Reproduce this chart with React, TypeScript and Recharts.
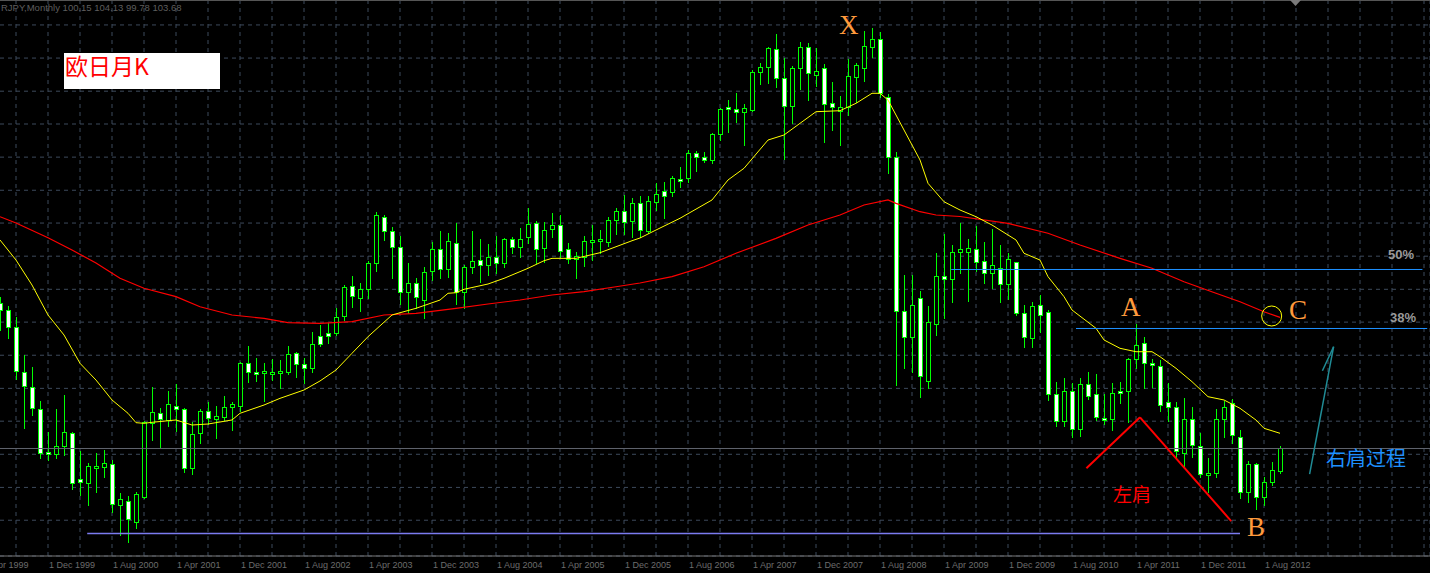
import React from "react";
import { Bar, CartesianGrid, ComposedChart, Line, ReferenceDot, ReferenceLine, XAxis, YAxis } from "recharts";

// monthly bars, index 0 = Jun 1999 ... 160 = Oct 2012
const opens = [
  126.68, 125.62, 122.88, 115.84, 113.47, 109.88, 103.05, 102.75, 104.11, 106.07,
  98.78, 98.25, 100.9, 100.78, 101.16, 94.71, 95.39, 92.07, 96.03, 107.66,
  109.24, 108.19, 110.45, 109.88, 100.62, 106.07, 109.61, 108.29, 108.71, 110.2,
  110.45, 117.17, 115.84, 115.84, 115.74, 115.84, 115.84, 118.76, 117.01, 116.38,
  121.5, 121.93, 122.02, 124.72, 129.42, 127.47, 128.9, 133.02, 140.31, 138.14,
  135.56, 128.42, 129.95, 127.2, 131.8, 135.24, 132.07, 136.19, 128.42, 132.49,
  133.5, 132.7, 134.08, 133.02, 136.92, 135.65, 137.14, 139.36, 135.4, 138.41,
  139.04, 135.24, 133.66, 134.08, 136.7, 136.7, 136.45, 139.88, 141.36, 139.77,
  142.53, 138.14, 142.79, 144.48, 144.37, 146.4, 146.49, 150.46, 149.92, 149.4,
  153.47, 157.75, 157.53, 156.96, 157.32, 163.3, 164.09, 166.94, 162.34, 158.0,
  164.03, 167.26, 162.82, 163.93, 158.38, 157.21, 157.75, 162.6, 164.03, 167.36,
  168.52, 159.43, 149.82, 125.51, 121.29, 127.47, 114.37, 123.4, 131.06, 130.48,
  134.76, 134.86, 135.24, 133.39, 131.44, 132.23, 129.69, 133.18, 125.1, 121.13,
  126.36, 125.26, 112.26, 108.07, 112.83, 106.71, 113.84, 112.26, 108.5, 108.29,
  112.83, 112.83, 117.9, 120.34, 117.26, 116.79, 111.08, 110.2, 102.91, 108.29,
  104.11, 99.73, 99.73, 108.29, 110.83, 105.54, 96.72, 101.16, 95.93, 98.4,
  100.15,
];

const highs = [
  127.73, 126.26, 124.46, 118.48, 116.53, 111.2, 106.33, 109.93, 112.15, 106.3,
  103.32, 101.32, 102.91, 103.43, 101.85, 96.57, 96.14, 96.73, 108.07, 113.37,
  110.04, 112.78, 113.84, 110.04, 107.92, 109.88, 111.08, 110.4, 111.99, 111.08,
  117.42, 119.96, 118.06, 117.17, 117.85, 117.69, 119.96, 119.01, 117.96, 122.09,
  123.24, 123.51, 125.89, 129.58, 131.01, 129.95, 133.43, 141.2, 140.68, 138.73,
  137.35, 133.02, 130.64, 132.49, 136.45, 138.14, 137.87, 139.36, 132.76, 138.14,
  136.87, 136.08, 137.35, 137.03, 137.24, 138.57, 141.74, 139.72, 139.61, 141.04,
  140.63, 136.29, 134.86, 137.35, 139.09, 138.3, 140.31, 141.79, 143.84, 143.32,
  143.73, 143.73, 145.7, 145.96, 146.91, 148.33, 150.98, 150.82, 150.7, 153.63,
  157.59, 158.9, 159.96, 158.27, 163.66, 164.72, 167.36, 169.37, 165.51, 164.29,
  168.05, 167.89, 167.1, 164.56, 161.81, 159.54, 165.36, 164.82, 169.84, 170.27,
  169.73, 159.86, 150.71, 131.17, 131.17, 128.68, 126.3, 134.6, 137.62, 135.92,
  139.36, 136.87, 138.93, 136.45, 138.41, 135.92, 134.7, 133.28, 126.41, 126.93,
  128.0, 125.62, 114.26, 114.79, 114.1, 114.89, 115.84, 115.43, 112.26, 114.0,
  114.26, 117.96, 123.4, 121.39, 117.8, 117.69, 114.1, 111.08, 111.63, 110.3,
  106.07, 102.12, 109.93, 111.2, 111.47, 106.6, 101.69, 101.32, 99.2, 101.58,
  104.13,
];

const lows = [
  122.45, 121.18, 114.68, 106.87, 108.98, 102.12, 101.85, 102.12, 102.64, 97.2,
  96.3, 94.71, 96.82, 99.1, 93.65, 89.96, 88.8, 91.12, 95.9, 105.02,
  103.95, 107.28, 106.44, 99.99, 99.62, 104.59, 107.5, 105.38, 108.19, 106.6,
  109.66, 114.26, 114.37, 111.2, 114.52, 113.3, 115.43, 115.05, 114.1, 115.84,
  119.96, 120.34, 121.65, 124.04, 126.14, 125.51, 127.47, 131.8, 136.71, 130.64,
  126.57, 125.1, 125.98, 124.31, 130.37, 130.64, 130.9, 126.57, 125.89, 131.44,
  130.1, 131.17, 131.53, 132.49, 134.61, 134.08, 136.19, 133.12, 133.28, 137.24,
  134.08, 133.02, 130.64, 132.6, 133.54, 134.61, 135.76, 137.62, 137.62, 137.24,
  137.24, 137.77, 141.47, 140.15, 143.73, 145.17, 145.96, 147.7, 149.03, 148.97,
  152.56, 153.88, 155.47, 151.7, 157.2, 161.44, 161.55, 161.01, 149.55, 155.31,
  160.65, 158.9, 161.17, 152.29, 154.15, 151.77, 156.53, 158.63, 161.92, 165.67,
  159.43, 147.28, 113.73, 116.38, 115.84, 111.88, 113.21, 121.65, 124.4, 126.93,
  131.53, 127.1, 131.85, 129.85, 129.06, 126.93, 127.36, 124.83, 119.81, 119.81,
  122.18, 111.36, 107.23, 107.23, 105.44, 105.65, 111.47, 108.19, 107.55, 106.6,
  110.83, 107.92, 116.38, 113.21, 113.46, 109.61, 108.03, 102.12, 100.78, 102.37,
  99.2, 96.82, 99.2, 105.54, 104.49, 95.77, 95.24, 94.03, 94.71, 97.88,
  99.78,
];

const closes = [
  125.62, 122.88, 115.95, 113.57, 110.04, 102.91, 102.95, 104.11, 106.23, 98.15,
  98.41, 100.89, 100.95, 101.32, 94.82, 95.61, 92.44, 96.41, 107.92, 109.4,
  108.39, 110.68, 109.88, 100.62, 105.91, 109.61, 108.45, 108.87, 110.2, 110.68,
  117.17, 115.74, 115.8, 115.9, 115.8, 115.9, 118.6, 117.01, 116.38, 120.18,
  120.18, 121.5, 124.56, 129.22, 127.84, 128.9, 133.02, 140.63, 138.14, 135.56,
  128.42, 129.95, 127.63, 131.6, 135.29, 132.07, 136.51, 128.42, 132.39, 133.43,
  132.7, 133.97, 133.02, 136.92, 135.56, 136.92, 139.2, 135.24, 138.3, 139.04,
  134.97, 133.7, 134.13, 136.51, 136.75, 136.8, 139.88, 141.36, 139.52, 142.53,
  138.3, 142.89, 144.01, 143.73, 146.49, 146.35, 150.46, 149.92, 149.4, 153.47,
  157.43, 157.43, 156.96, 157.59, 163.3, 164.09, 167.1, 162.34, 158.0, 164.03,
  167.26, 163.14, 163.5, 158.27, 157.75, 157.75, 162.71, 164.45, 167.51, 168.57,
  159.96, 149.82, 125.46, 121.39, 126.36, 115.16, 123.76, 131.06, 130.48, 134.76,
  135.24, 135.4, 133.28, 131.44, 132.7, 129.69, 133.66, 125.19, 121.29, 126.3,
  124.83, 112.26, 108.07, 112.83, 106.71, 113.84, 111.99, 108.61, 108.45, 112.42,
  112.42, 117.9, 120.07, 117.26, 116.85, 110.56, 110.2, 103.27, 108.29, 104.22,
  99.58, 99.8, 108.29, 110.3, 105.8, 96.72, 101.16, 95.93, 98.31, 100.26,
  103.68,
];

// moving averages: [bar index, price]
const maFast = [
  [0, 136.72], [2, 133.54], [4, 129.58], [6, 124.83], [8, 121.66], [10, 117.17], [12, 114.52],
  [14, 111.36], [16, 109.25], [17, 107.76], [18, 107.66], [19, 107.82], [22, 108.19], [24, 107.39],
  [26, 107.55], [29, 108.19], [30, 109.25], [33, 110.56], [35, 111.62], [38, 112.94], [40, 114.37],
  [42, 116.11], [44, 118.76], [46, 121.39], [49, 124.83], [52, 125.89], [55, 127.2], [56, 128.27],
  [57, 128.36], [58, 128.9], [61, 129.74], [63, 130.64], [66, 132.23], [68, 133.43], [69, 133.81],
  [72, 133.81], [75, 134.7], [77, 135.65], [79, 136.6], [80, 137.03], [82, 138.3], [85, 140.16],
  [89, 143.06], [91, 146.23], [93, 148.08], [96, 152.56], [98, 153.36], [100, 155.21], [102, 157.05],
  [105, 157.21], [107, 158.38], [109, 159.97], [110, 159.97], [111, 158.9], [113, 154.15], [115, 149.4],
  [116, 145.7], [118, 142.78], [120, 141.47], [122, 140.41], [124, 139.09], [127, 136.72], [128, 134.61],
  [130, 133.54], [131, 130.9], [133, 127.73], [134, 125.62], [137, 122.72], [138, 120.87], [140, 119.55],
  [142, 119.01], [144, 119.01], [145, 118.22], [147, 116.38], [149, 114.26], [151, 111.88], [153, 111.36],
  [155, 110.04], [157, 108.18], [158, 106.87], [160, 106.08],
];

const maSlow = [
  [0, 140.41], [2, 139.41], [6, 137.08], [9, 135.13], [12, 133.07], [15, 130.64], [18, 129.06],
  [22, 127.73], [25, 126.14], [29, 124.83], [33, 124.3], [36, 123.61], [40, 123.51], [44, 123.77],
  [48, 124.83], [52, 125.1], [57, 125.89], [61, 126.57], [65, 127.21], [69, 128.0], [73, 128.52],
  [77, 129.31], [80, 129.9], [84, 130.9], [88, 132.48], [92, 134.61], [97, 136.98], [101, 139.09],
  [105, 140.68], [108, 142.26], [111, 143.06], [112, 142.53], [115, 141.2], [117, 140.68], [120, 140.44],
  [126, 139.36], [131, 137.78], [135, 135.92], [140, 133.81], [144, 132.23], [148, 130.1], [152, 128.27],
  [155, 126.93], [158, 125.35], [160, 124.46],
];

const axisLabels = [
  "1 Apr 1999", "1 Dec 1999", "1 Aug 2000", "1 Apr 2001", "1 Dec 2001", "1 Aug 2002", "1 Apr 2003",
  "1 Dec 2003", "1 Aug 2004", "1 Apr 2005", "1 Dec 2005", "1 Aug 2006", "1 Apr 2007", "1 Dec 2007",
  "1 Aug 2008", "1 Apr 2009", "1 Dec 2009", "1 Aug 2010", "1 Apr 2011", "1 Dec 2011", "1 Aug 2012",
];
const axisLabelBars = [-2, 6, 14, 22, 30, 38, 46, 54, 62, 70, 78, 86, 94, 102, 110, 118, 126, 134, 142, 150, 158];

const gridPrices = [170.8, 165.55, 160.3, 155.1, 149.85, 144.6, 139.4, 134.15, 128.9, 123.7, 118.45, 113.2, 108.0, 102.75, 97.5, 92.3];

const lastClose = 103.67;
const fib50 = 132.04;
const fib38 = 122.69;
const supportPrice = 90.2;
const shoulder = [[135.8, 100.53], [142.5, 108.61], [153.9, 92.17]];
const arrow = [[163.7, 99.62], [166.7, 119.8], [165.3, 116.0]];

const Y_MIN = 86.63;
const Y_MAX = 174.755;
const X_MIN = -8;
const X_MAX = 178.75;

const gridBars: number[] = [];
for (let b = -6; b <= 178; b += 4) gridBars.push(b);

const rows = opens.map((o, i) => ({
  i,
  range: [lows[i], highs[i]],
  o,
  h: highs[i],
  l: lows[i],
  c: closes[i],
})) as any[];
maFast.forEach(([i, v]) => (rows[i].fast = v));
maSlow.forEach(([i, v]) => (rows[i].slow = v));

function Candle(props: any) {
  const { x, y, width, height, payload } = props;
  const { o, h, l, c } = payload;
  const cx = Math.round(x + width / 2);
  const k = height / (h - l);
  const py = (v: number) => y + (h - v) * k;
  const top = Math.round(py(Math.max(o, c)));
  const bot = Math.round(py(Math.min(o, c)));
  return (
    <g>
      <line x1={cx + 0.5} x2={cx + 0.5} y1={Math.round(py(h))} y2={Math.round(py(l)) + 1} stroke="#00ff00" />
      <rect
        x={cx - 1.5}
        y={top + 0.5}
        width={4}
        height={Math.max(bot - top, 2)}
        fill={c < o ? "#ffffff" : "#000000"}
        stroke="#00ff00"
      />
    </g>
  );
}

function AxisTick(props: any) {
  const { x, payload } = props;
  const k = axisLabelBars.indexOf(payload.value);
  if (k < 0) return <g />;
  return (
    <text x={x + 1} y={568} fontSize={9} fill="#6c6c6c" fontFamily="Liberation Sans, Arial" textAnchor="start">
      {axisLabels[k]}
    </text>
  );
}

const letter = { fontFamily: "Liberation Serif, serif", fontSize: 27, fill: "#ff9a3c" };

export default function App() {
  return (
    <div style={{ position: "absolute", left: 0, top: 0, width: 1430, height: 573, background: "#000", overflow: "hidden" }}>
      <div style={{ position: "absolute", left: -64, top: 0 }}>
        <ComposedChart width={1494} height={573} data={rows} margin={{ top: 0, right: 0, bottom: 0, left: 0 }}>
          <CartesianGrid stroke="#3d4a5c" strokeDasharray="4 4" />
          <XAxis
            dataKey="i"
            type="number"
            domain={[X_MIN, X_MAX]}
            allowDataOverflow
            ticks={gridBars}
            interval={0}
            height={17}
            tickLine={false}
            axisLine={{ stroke: "#777777" }}
            tick={<AxisTick />}
          />
          <YAxis hide type="number" domain={[Y_MIN, Y_MAX]} ticks={gridPrices} allowDataOverflow />
          <ReferenceLine y={lastClose} stroke="#60646e" />
          <Bar dataKey="range" barSize={5} shape={<Candle />} isAnimationActive={false} />
          <Line dataKey="slow" stroke="#ff0000" strokeWidth={1.2} dot={false} activeDot={false} connectNulls isAnimationActive={false} />
          <Line dataKey="fast" stroke="#ffff00" strokeWidth={1} dot={false} activeDot={false} connectNulls isAnimationActive={false} />
          <ReferenceLine segment={[{ x: 118.9, y: fib50 }, { x: 177.8, y: fib50 }]} stroke="#1e90ff" />
          <ReferenceLine segment={[{ x: 134.5, y: fib38 }, { x: 178.4, y: fib38 }]} stroke="#1e90ff" />
          <ReferenceLine segment={[{ x: 10.9, y: supportPrice }, { x: 155, y: supportPrice }]} stroke="#7b7bf0" strokeWidth={1.3} />
          <ReferenceLine segment={[{ x: shoulder[0][0], y: shoulder[0][1] }, { x: shoulder[1][0], y: shoulder[1][1] }]} stroke="#ff0000" strokeWidth={2} />
          <ReferenceLine segment={[{ x: shoulder[1][0], y: shoulder[1][1] }, { x: shoulder[2][0], y: shoulder[2][1] }]} stroke="#ff0000" strokeWidth={2} />
          <ReferenceLine segment={[{ x: arrow[0][0], y: arrow[0][1] }, { x: arrow[1][0], y: arrow[1][1] }]} stroke="#208c96" strokeWidth={1.5} />
          <ReferenceLine segment={[{ x: arrow[1][0], y: arrow[1][1] }, { x: arrow[2][0], y: arrow[2][1] }]} stroke="#208c96" strokeWidth={1.5} />
          <ReferenceDot x={158.96} y={124.67} r={10} fill="none" stroke="#ffff00" strokeWidth={1} />
        </ComposedChart>
      </div>
      <svg width={1430} height={573} style={{ position: "absolute", left: 0, top: 0, pointerEvents: "none" }}>
        <line x1={0} x2={1430} y1={0.5} y2={0.5} stroke="#555" />
        <polygon points="1290,0 1301,0 1295.5,6" fill="#7a7a7a" />
        <text x={1} y={11} fontSize={9.5} fill="#5e5e5e" fontFamily="Liberation Sans, Arial">
          RJPY,Monthly  100.15 104.13 99.78 103.68
        </text>
        <rect x={64} y={53} width={156} height={36} fill="#ffffff" />
        <text x={65} y={75} fontSize={23} fill="#ff0000" fontFamily="Noto Sans CJK SC">欧日月K</text>
        <text x={839} y={34} {...letter}>X</text>
        <text x={1121} y={316} {...letter}>A</text>
        <text x={1289} y={319} {...letter}>C</text>
        <text x={1247} y={536} {...letter}>B</text>
        <text x={1388} y={259} fontSize={13} fontWeight="bold" fill="#9a9a9a" fontFamily="Liberation Sans, Arial">50%</text>
        <text x={1390} y={322} fontSize={13} fontWeight="bold" fill="#9a9a9a" fontFamily="Liberation Sans, Arial">38%</text>
        <text x={1113} y={502} fontSize={19} fill="#ff0000" fontFamily="Noto Sans CJK SC">左肩</text>
        <text x={1326} y={466} fontSize={20} fill="#1e90ff" fontFamily="Noto Sans CJK SC">右肩过程</text>
      </svg>
    </div>
  );
}
